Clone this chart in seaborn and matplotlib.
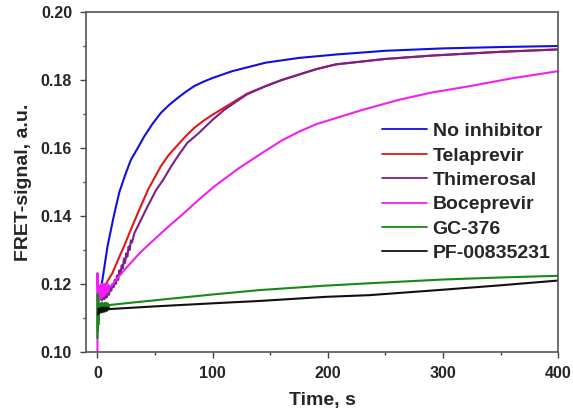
import numpy as np
import pandas as pd
import matplotlib
matplotlib.use("Agg")
import matplotlib.pyplot as plt
from matplotlib.ticker import MultipleLocator
import seaborn as sns

# ==========================================
# DATA
# ==========================================

series_names = ["No inhibitor", "Telaprevir", "Thimerosal",
                "Boceprevir", "GC-376", "PF-00835231"]
series_colors = ["#1010e0", "#e01818", "#7a1f8c", "#f020f0", "#168a16", "#101010"]

t_blue = [1.5, 4.3, 8.7, 14.5, 19, 24, 29, 35, 40.6, 48, 55, 62, 69.6, 77,
          84, 92, 100, 117, 146, 175, 207, 250, 300, 350, 400]
v_blue = [0.1162, 0.1212, 0.1310, 0.1405, 0.1470, 0.1520, 0.1565, 0.1600,
          0.1634, 0.1672, 0.1703, 0.1726, 0.1747, 0.1766, 0.1782, 0.1795,
          0.1806, 0.1826, 0.1851, 0.1865, 0.1875, 0.1886, 0.1893, 0.1897,
          0.1900]

t_red = [1, 3, 6, 9, 13, 18, 23, 29, 35, 44, 55, 62, 70, 77, 84, 92, 100,
         117, 130, 146, 160, 175, 190, 207, 250, 291, 350, 400]
v_red = [0.1158, 0.1170, 0.1190, 0.1210, 0.1232, 0.1272, 0.1310, 0.1360,
         0.1408, 0.1478, 0.1546, 0.1580, 0.1610, 0.1636, 0.1659, 0.1680,
         0.1698, 0.1733, 0.1760, 0.1782, 0.1800, 0.1816, 0.1832, 0.1846,
         0.1862, 0.1872, 0.1883, 0.1890]

t_purple = [1, 2, 3, 4, 5, 6, 7, 8, 9, 10, 11, 12, 13, 14, 15, 16, 17, 18,
            19, 20, 21, 22, 23, 24, 25, 26, 27, 28, 29, 30, 32, 43.5, 51, 57,
            64, 71, 78, 88, 100, 110, 122, 130, 146, 160, 175, 190, 207, 250,
            291, 350, 400]
v_purple = [0.1150, 0.1155, 0.1160, 0.1152, 0.1168, 0.1155, 0.1172, 0.1160,
            0.1180, 0.1168, 0.1190, 0.1180, 0.1200, 0.1190, 0.1212, 0.1200,
            0.1225, 0.1212, 0.1240, 0.1228, 0.1255, 0.1245, 0.1275, 0.1262,
            0.1290, 0.1280, 0.1310, 0.1300, 0.1328, 0.1322, 0.1349, 0.1428,
            0.1477, 0.1506, 0.1546, 0.1582, 0.1615, 0.1644, 0.1683, 0.1712,
            0.1740, 0.1758, 0.1782, 0.1800, 0.1816, 0.1832, 0.1846, 0.1862,
            0.1872, 0.1883, 0.1890]

t_magenta = [0, 0, 0.5, 1, 1.5, 2, 2.5, 3, 3.5, 4, 4.5, 5, 5.5, 6, 6.5, 7,
             7.5, 8, 8.5, 9, 9.5, 10, 11.6, 18, 26, 37, 49, 62, 75, 88, 101.5,
             123, 146, 160, 175, 190, 207, 230, 262, 290, 320, 360, 400]
v_magenta = [0.1000, 0.1232, 0.1140, 0.1190, 0.1155, 0.1195, 0.1158, 0.1198,
             0.1160, 0.1200, 0.1163, 0.1198, 0.1165, 0.1200, 0.1168, 0.1198,
             0.1172, 0.1200, 0.1175, 0.1198, 0.1180, 0.1195, 0.1192, 0.1220,
             0.1251, 0.1292, 0.1330, 0.1370, 0.1408, 0.1448, 0.1487, 0.1541,
             0.1592, 0.1622, 0.1648, 0.1670, 0.1688, 0.1712, 0.1742, 0.1763,
             0.1780, 0.1805, 0.1826]

t_green = [0.0, 0.2, 0.4, 0.6, 0.8, 1.0, 1.5, 2.0, 2.5, 3.0, 3.5, 4.0, 4.5,
           5.0, 5.5, 6.0, 6.5, 7.0, 7.5, 8.0, 8.5, 9.0, 9.5, 10.0, 50, 100,
           141, 198, 236, 300, 350, 400]
v_green = [0.1040, 0.1170, 0.1060, 0.1150, 0.1080, 0.1140, 0.1115, 0.1142,
           0.1118, 0.1143, 0.1116, 0.1144, 0.1117, 0.1142, 0.1118, 0.1143,
           0.1119, 0.1144, 0.1120, 0.1143, 0.1122, 0.1142, 0.1125, 0.1138,
           0.1152, 0.1169, 0.1182, 0.1195, 0.1202, 0.1213, 0.1219, 0.1224]

t_black = [0.5, 1, 2, 3, 4, 5, 6, 7, 8, 9, 10, 50, 100, 141, 198, 236,
           300, 350, 400]
v_black = [0.1110, 0.1128, 0.1115, 0.1130, 0.1118, 0.1131, 0.1120, 0.1131,
           0.1122, 0.1130, 0.1126, 0.1134, 0.1143, 0.1150, 0.1162, 0.1167,
           0.1183, 0.1196, 0.1210]

x_ticks = [0, 100, 200, 300, 400]
y_ticks = [0.10, 0.12, 0.14, 0.16, 0.18, 0.20]

# ==========================================
# LONG TABLE
# ==========================================

all_t = [t_blue, t_red, t_purple, t_magenta, t_green, t_black]
all_v = [v_blue, v_red, v_purple, v_magenta, v_green, v_black]

frames = []
for name, tt, vv in zip(series_names, all_t, all_v):
    frames.append(pd.DataFrame({"Time": tt, "Signal": vv, "Sample": name}))
df = pd.concat(frames, ignore_index=True)

# ==========================================
# PLOT
# ==========================================

sns.set_theme(style="ticks")
plt.rcParams["font.family"] = ["Liberation Sans", "DejaVu Sans"]
plt.rcParams["font.weight"] = "bold"

fig = plt.figure(figsize=(5.73, 4.15), dpi=100)
ax = fig.add_axes([0.150, 0.152, 0.824, 0.819])

sns.lineplot(
    data=df,
    x="Time",
    y="Signal",
    hue="Sample",
    hue_order=series_names,
    palette=dict(zip(series_names, series_colors)),
    sort=False,
    estimator=None,
    linewidth=1.5,
    ax=ax
)

ax.set_xlim(-10, 400)
ax.set_ylim(0.10, 0.20)
ax.set_xticks(x_ticks)
ax.set_yticks(y_ticks)
ax.set_yticklabels([f"{v:.2f}" for v in y_ticks])
ax.xaxis.set_minor_locator(MultipleLocator(50))
ax.yaxis.set_minor_locator(MultipleLocator(0.01))

ax.tick_params(axis="both", which="major", direction="out", length=4,
               width=1.0, color="#444444", labelsize=11.5, pad=6)
ax.tick_params(axis="both", which="minor", direction="out", length=2.5,
               width=1.0, color="#444444")
for lab in ax.get_xticklabels() + ax.get_yticklabels():
    lab.set_fontweight("bold")

for side in ["left", "right", "top", "bottom"]:
    ax.spines[side].set_visible(True)
    ax.spines[side].set_color("#555555")
    ax.spines[side].set_linewidth(1.2)

ax.set_xlabel("Time, s", fontsize=14, fontweight="bold", labelpad=8)
ax.set_ylabel("FRET-signal, a.u.", fontsize=14, fontweight="bold", labelpad=6)

handles, labels = ax.get_legend_handles_labels()
leg = ax.legend(
    handles, labels,
    loc="upper left",
    bbox_to_anchor=(0.627, 0.675),
    frameon=False,
    fontsize=14,
    handlelength=2.3,
    handletextpad=0.3,
    labelspacing=0.35,
    borderaxespad=0.0,
    borderpad=0.0
)
for txt in leg.get_texts():
    txt.set_fontweight("bold")
for line in leg.get_lines():
    line.set_linewidth(1.3)

fig.savefig("out.png", dpi=100)
